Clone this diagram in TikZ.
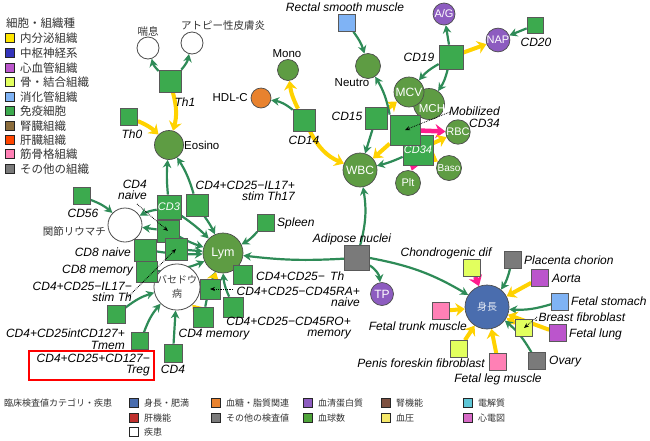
\documentclass[tikz,border=0pt]{standalone}
\usepackage{fontspec}
\setmainfont{Liberation Sans}
\newfontfamily\jp{Noto Sans CJK JP}
\usetikzlibrary{arrows.meta,backgrounds}
\definecolor{sqgreen}{HTML}{3CAA4E}
\definecolor{cgreen}{HTML}{5E9C43}
\definecolor{agreen}{HTML}{2E8B57}
\definecolor{ayel}{HTML}{FFD200}
\definecolor{amag}{HTML}{FF1C8D}
\definecolor{cpurple}{HTML}{8D5CC0}
\definecolor{corange}{HTML}{E8822E}
\definecolor{cblue}{HTML}{4A6DAE}
\definecolor{tgray}{HTML}{7A7A7A}
\definecolor{tlblue}{HTML}{7FB3F5}
\definecolor{tpurple}{HTML}{BB55CC}
\definecolor{tpink}{HTML}{FF80B5}
\definecolor{tygreen}{HTML}{E2FF5E}
\definecolor{tyellow}{HTML}{FFE600}
\definecolor{tnavy}{HTML}{3333BB}
\definecolor{tbrown}{HTML}{8C6D3C}
\definecolor{tred}{HTML}{FF4500}
\definecolor{lred}{HTML}{C0302E}
\definecolor{lbrown}{HTML}{7D5040}
\definecolor{lyellow}{HTML}{F5E86A}
\definecolor{lcyan}{HTML}{5EC6D6}
\definecolor{lpink}{HTML}{D66AC6}
\definecolor{lgreen}{HTML}{4FA43A}
\begin{document}
\begin{tikzpicture}[x=1pt,y=-1pt,
  sqn/.style={rectangle,draw=black!65,line width=0.7pt,fill=sqgreen,minimum size=#1,inner sep=0pt},
  tsq/.style={rectangle,draw=black!65,line width=0.7pt,minimum size=#1,inner sep=0pt},
  crc/.style={circle,draw=black!70,line width=0.7pt,fill=cgreen,minimum size=#1,inner sep=0pt,text=white,font=\fontsize{11}{12}\selectfont},
  dis/.style={circle,draw=black!70,line width=0.8pt,fill=white,minimum size=#1,inner sep=0pt},
  lb/.style={font=\fontsize{12}{11.5}\selectfont\itshape,inner sep=1pt,align=right},
  lbu/.style={font=\fontsize{11.5}{12}\selectfont,inner sep=1pt},
  lbj/.style={font=\jp\fontsize{10.5}{12}\selectfont,text=black!80,inner sep=1pt},
  legj/.style={font=\jp\fontsize{11.5}{12}\selectfont,text=black!80,inner sep=1pt,anchor=west},
  legb/.style={font=\jp\fontsize{9}{10}\selectfont,text=black!80,inner sep=1pt,anchor=west},
  lbox/.style={rectangle,draw=black!85,line width=0.9pt,minimum size=#1,inner sep=0pt},
  ga/.style={draw=agreen,line width=2.2pt,-{Stealth[length=8pt,width=8.5pt]}},
  ya/.style={draw=ayel,line width=4pt,-{Stealth[length=9pt,width=13pt]}},
  ma/.style={draw=amag,line width=4.5pt,-{Stealth[length=10pt,width=14pt]}},
  da/.style={densely dotted,line width=0.8pt,-{Stealth[length=5pt,width=4pt]}}]
\useasboundingbox (0,0) rectangle (650,440);

% ---------- legends ----------
\node[legj] at (5,23) {細胞・組織種};
\foreach \yy/\cc/\tt in {38/tyellow/内分泌組織,53/tnavy/中枢神経系,68/tpurple/心血管組織,82/tygreen/骨・結合組織,97/tlblue/消化管組織,111/sqgreen/免疫細胞,126/tbrown/腎臓組織,140/tred/肝臓組織,154/tpink/筋骨格組織,169/tgray/その他の組織}{
  \node[lbox=9.5pt,fill=\cc] at (10,\yy) {};
  \node[legj] at (19,\yy) {\tt};
}
\node[legb] at (3,403) {臨床検査値カテゴリ・疾患};
\foreach \xx/\yy/\cc/\tt in {134/403/cblue/身長・肥満,134/418/lred/肝機能,134/432/white/疾患,216/403/corange/血糖・脂質関連,216/418/tgray/その他の検査値,308/403/cpurple/血清蛋白質,308/418/lgreen/血球数,386/403/lbrown/腎機能,386/418/lyellow/血圧,468/403/lcyan/電解質,468/418/lpink/心電図}{
  \node[lbox=8.5pt,fill=\cc] at (\xx,\yy) {};
  \node[legb] at (\xx+9,\yy) {\tt};
}

% ---------- nodes ----------
\node[dis=22] (asth) at (148,48) {};
\node[lbj] at (148,31) {喘息};
\node[dis=22] (atop) at (192,43) {};
\node[lbj] at (223,26) {アトピー性皮膚炎};
\node[sqn=22] (th1) at (170,81) {};
\node[lb] at (185,102) {Th1};
\node[sqn=17] (th0) at (129,117) {};
\node[lb] at (132,134) {Th0};
\node[crc=29] (eos) at (169,145) {};
\node[lbu,anchor=west] at (183,145) {Eosino};

\node[crc=21] (mono) at (288,70) {};
\node[lbu] at (287,54) {Mono};
\node[circle,draw=black!70,line width=0.7pt,fill=corange,minimum size=20pt,inner sep=0pt] (hdl) at (261,98) {};
\node[lbu,anchor=east] at (249,98) {HDL-C};
\node[sqn=22] (cd14) at (304,120) {};
\node[lb] at (304,140) {CD14};

\node[lb] at (345,7) {Rectal smooth muscle};
\node[tsq=17,fill=tlblue] (rect) at (347,23) {};
\node[crc=25] (neut) at (368,66) {};
\node[lbu] at (352,83) {Neutro};
\node[sqn=22] (cd15) at (376,118) {};
\node[lb] at (347,116) {CD15};
\node[crc=34,font=\fontsize{12}{12}\selectfont] (wbc) at (360,170) {WBC};

\node[crc=22,fill=cpurple] (ag) at (444,14) {A/G};
\node[crc=23,fill=cpurple] (nap) at (498,40) {NAP};
\node[sqn=16] (cd20) at (535,25) {};
\node[lb] at (536,42) {CD20};
\node[sqn=24] (cd19) at (451,57) {};
\node[lb] at (419,57) {CD19};
\node[crc=31] (mch) at (429,104) {};
\node[crc=30,font=\fontsize{12}{12}\selectfont] (mcv) at (409,92) {MCV};
\node[text=white,font=\fontsize{11.5}{12}\selectfont] at (432,109) {MCH};
\node[crc=23] (rbc) at (458,132) {RBC};
\node[crc=25,font=\fontsize{10}{12}\selectfont] (baso) at (449,168) {Baso};
\node[crc=25] (plt) at (408,183) {Plt};

% ---------- lymphocyte cluster ----------
\node[dis=34] (ra) at (125,225) {};
\node[lbj,anchor=east] at (107,231) {関節リウマチ};
\node[dis=43,align=center,font=\jp\fontsize{10}{14}\selectfont,text=black!75] (bas) at (177,287) {バセドウ\\病};
\node[crc=40,font=\fontsize{12.5}{12}\selectfont] (lym) at (223,253) {Lym};
\node[sqn=17] (cd56) at (82,196) {};
\node[lb] at (83,213) {CD56};
\node[sqn=24,text=white,font=\fontsize{11}{12}\selectfont\itshape] (cd3) at (169,207) {CD3};
\node[sqn=22] (th17) at (197,205) {};
\node[lb,anchor=east] at (296,191) {CD4+CD25−IL17+\\stim Th17};
\node[sqn=22] (cd4n) at (168,231) {};
\node[lb,anchor=east] at (148,190) {CD4\\naive};
\node[sqn=22] (cd8n) at (145,250) {};
\node[lb,anchor=east] at (132,252) {CD8 naive};
\node[sqn=22] (il17m) at (176,249) {};
\node[sqn=21] (cd8m) at (147,272) {};
\node[lb,anchor=east] at (134,271) {CD8 memory};
\node[lb,anchor=east] at (133,292) {CD4+CD25−IL17−\\stim Th};
\node[sqn=18] (sqa) at (116,314) {};
\node[sqn=17] (tmem) at (140,341) {};
\node[lb,anchor=east] at (126,339) {CD4+CD25intCD127+\\Tmem};
\node[lb,anchor=east] (tregl) at (151,365) {CD4+CD25+CD127−\\Treg};
\draw[red,line width=1.3pt] (29,351) rectangle (154,380);
\node[sqn=18] (cd4) at (173,353) {};
\node[lb] at (173,369) {CD4};
\node[sqn=20] (cd4m) at (203,317) {};
\node[lb] at (214,335) {CD4 memory};
\node[sqn=20] (ran) at (210,289) {};
\node[lb,anchor=east] at (361,297) {CD4+CD25−CD45RA+\\naive};
\node[sqn=20] (ro) at (233,307) {};
\node[lb,anchor=east] at (352,328) {CD4+CD25−CD45RO+\\memory};
\node[sqn=19] (th) at (243,275) {};
\node[lb,anchor=west] at (255,276) {CD4+CD25−\, Th};
\node[sqn=17] (spl) at (266,223) {};
\node[lb,anchor=west] at (276,223) {Spleen};
\node[tsq=25,fill=tgray] (adi) at (357,258) {};
\node[lb] at (352,239) {Adipose nuclei};
\node[crc=23,fill=cpurple,font=\fontsize{12}{12}\selectfont] (tp) at (382,294) {TP};

% ---------- big square cluster ----------
\node[sqn=30,text=white,font=\fontsize{11}{12}\selectfont\itshape] (cd34) at (418,150) {\raisebox{-6pt}{CD34}};
\node[sqn=30] (mob) at (405,130) {};
\node[lb,anchor=east] at (501,117) {Mobilized\\CD34};

% ---------- height cluster ----------
\node[crc=44,fill=cblue,font=\jp\fontsize{10}{12}\selectfont,text=white!85!cblue] (hgt) at (487,307) {身長};
\node[tsq=17,fill=tygreen] (cho) at (472,268) {};
\node[lb] at (446,253) {Chondrogenic dif};
\node[tsq=17,fill=tgray] (pla) at (513,260) {};
\node[lb,anchor=west] at (523,260) {Placenta chorion};
\node[tsq=17,fill=tpurple] (aor) at (540,278) {};
\node[lb,anchor=west] at (551,278) {Aorta};
\node[tsq=17,fill=tlblue] (sto) at (560,302) {};
\node[lb,anchor=west] at (570,301) {Fetal stomach};
\node[tsq=17,fill=tygreen] (bre) at (524,328) {};
\node[lb,anchor=west] at (534,317) {.Breast fibroblast};
\node[tsq=17,fill=tpurple] (lun) at (558,333) {};
\node[lb,anchor=west] at (568,334) {Fetal lung};
\node[tsq=17,fill=tgray] (ova) at (537,361) {};
\node[lb,anchor=west] at (548,362) {Ovary};
\node[tsq=17,fill=tpink] (leg) at (498,362) {};
\node[lb] at (498,379) {Fetal leg muscle};
\node[tsq=17,fill=tygreen] (pen) at (459,349) {};
\node[lb,anchor=east] at (486,363) {Penis foreskin fibroblast};
\node[tsq=17,fill=tpink] (tru) at (441,311) {};
\node[lb,anchor=east] at (468,326) {Fetal trunk muscle};

% ---------- edges ----------
\begin{pgfonlayer}{background}
\fill[white] (0,0) rectangle (650,440);
\draw[ga] (th1) to[bend left=15] (asth);
\draw[ga] (th1) to[bend right=15] (atop);
\draw[ya] (th1) to[bend left=15] (eos);
\draw[ya] (th0) to[bend left=10] (eos);
\draw[ga] (cd3) to[bend left=5] (eos);
\draw[ga] (th17) to[bend right=8] (eos);

\draw[ya] (cd14) to[bend left=10] (mono);
\draw[ga] (cd14) to[bend right=15] (hdl);
\draw[ya] (cd14) to[bend right=20] (wbc);
\draw[ga] (rect) to[bend left=10] (neut);
\draw[ga] (cd15) to (wbc);
\draw[ya] (cd15) to (mcv);
\draw[ga] (mob.north west) to[bend right=10] (neut);
\draw[ya] (mob) to (wbc);
\draw[ga] (cd34) to[bend left=5] (wbc);
\draw[ga] (cd19) to (ag);
\draw[ya] (cd19) to (nap);
\draw[ga] (cd20) to (nap);
\draw[ga] (cd19) to[bend right=10] (mcv);
\draw[ga] (cd19) to[bend left=10] (mch);
\draw[ma] (mob) to (mch);
\draw[ma] (mob) to (rbc);
\draw[ya] (cd34) to (rbc);
\draw[ya] (cd34) to (baso);
\draw[ma] (cd34) to (plt);

\draw[ga] (adi) to[bend right=12] (wbc);
\draw[ga] (adi) to[bend left=5] (lym);
\draw[ga] (adi) to[bend left=25] (tp);
\draw[ga] (adi.east) to[bend left=10] (hgt);

\draw[ga] (spl) to[bend left=10] (lym);
\draw[ga] (th) to (lym);
\draw[ga] (ro) to[bend left=10] (lym);
\draw[ga] (cd4m) to[bend left=5] (lym);
\draw[ya] (ran) to (lym);
\draw[ga] (cd3) to[bend left=5] (lym);
\draw[ga] (th17) to[bend left=5] (lym);
\draw[ga] (cd4n) to[bend right=5] (lym);
\draw[ga] (il17m) to (lym);
\draw[ga] (cd8n) to[bend right=5] (lym);
\draw[ga] (cd8m) to[bend right=10] (lym);
\draw[ga] (cd56) to[bend left=10] (ra);
\draw[ga] (cd3) to[bend right=10] (ra);
\draw[ga] (cd4n) to (ra);
\draw[ga] (sqa) to[bend left=10] (bas);
\draw[ga] (tmem) to[bend left=10] (bas);
\draw[ga] (cd4) to (bas);
\draw[ya] (cd4m) to (bas);

\draw[ma] (cho) to (hgt);
\draw[ga] (pla) to[bend left=10] (hgt);
\draw[ya] (aor) to (hgt);
\draw[ga] (sto) to[bend left=10] (hgt);
\draw[ya] (bre) to (hgt);
\draw[ya] (lun) to (hgt);
\draw[ga] (ova) to[bend right=10] (hgt);
\draw[ya] (leg) to (hgt);
\draw[ya] (pen) to (hgt);
\draw[ya] (tru) to (hgt);
\end{pgfonlayer}

% dotted pointer arrows
\coordinate (p1) at (137,204);
\coordinate (p2) at (128,297);
\coordinate (p3) at (233,289);
\coordinate (p4) at (450,112);
\coordinate (p5) at (537,317);
\draw[da] (p1) -- (cd4n.center);
\draw[da] (p2) -- (il17m.center);
\draw[da] (p3) -- (ran.center);
\draw[da] (p4) -- (mob.center);
\draw[da] (p5) -- (bre.center);
\end{tikzpicture}
\end{document}
